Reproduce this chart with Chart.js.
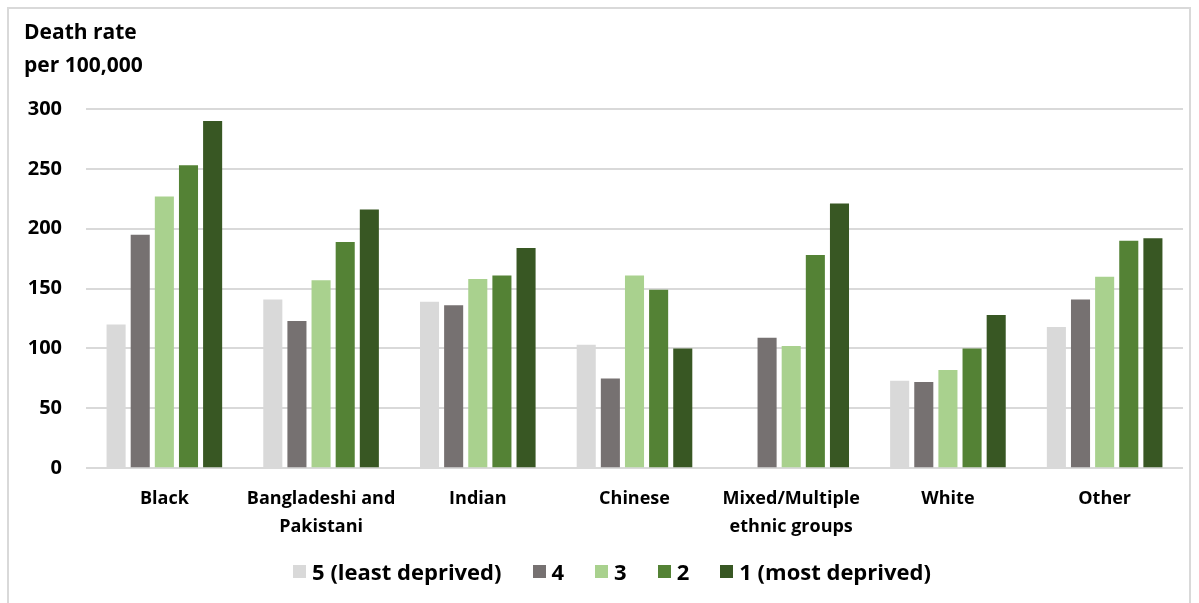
<!DOCTYPE html>
<html>
<head>
<meta charset="utf-8">
<script src="https://cdn.jsdelivr.net/npm/chart.js@4.4.1/dist/chart.umd.min.js"></script>
<style>
    html, body { margin: 0; padding: 0; background: #ffffff; }
    #wrap { position: relative; width: 1199px; height: 603px; overflow: hidden; }
    #frame { position: absolute; left: 7px; top: 7px; width: 1184px; height: 600px; border: 2px solid #d9d9d9; box-sizing: border-box; }
    #ytitle { position: absolute; left: 24px; top: 15px; font: bold 21px 'Open Sans', Lato, sans-serif; line-height: 33px; color: #000; }
    #chart-box { position: absolute; left: 0; top: 0; width: 1199px; height: 603px; }
    #legend { position: absolute; left: 0; width: 1224px; top: 556px; display: flex; justify-content: center; font: bold 22px 'Open Sans', Lato, sans-serif; line-height: 30px; color: #000; }
    #legend .item { display: flex; align-items: center; margin-right: 31px; }
    #legend .item:last-child { margin-right: 0; }
    #legend .swatch { width: 13px; height: 13px; margin-right: 6px; }
</style>
</head>
<body>
<div id="wrap">
    <div id="frame"></div>
    <div id="chart-box"><canvas id="deprivation-chart" width="1199" height="603"></canvas></div>
    <div id="ytitle">Death rate<br>per 100,000</div>
    <div id="legend"></div>
</div>
<script>
var categories = ['Black', ['Bangladeshi and', 'Pakistani'], 'Indian', 'Chinese', ['Mixed/Multiple', 'ethnic groups'], 'White', 'Other'];
var seriesNames = ['5 (least deprived)', '4', '3', '2', '1 (most deprived)'];
var quintile5 = [120, 141, 139, 103, null, 73, 118];
var quintile4 = [195, 123, 136, 75, 109, 72, 141];
var quintile3 = [227, 157, 158, 161, 102, 82, 160];
var quintile2 = [253, 189, 161, 149, 178, 100, 190];
var quintile1 = [290, 216, 184, 100, 221, 128, 192];
var seriesColors = ['#d9d9d9', '#767171', '#a9d18e', '#548235', '#385723'];
var yTicks = [0, 50, 100, 150, 200, 250, 300];

document.addEventListener('DOMContentLoaded', function () {
    initLegend();
    initChart();
});

function initLegend() {
    var box = document.getElementById('legend');
    seriesNames.forEach(function (name, i) {
        var item = document.createElement('div');
        item.className = 'item';
        var sw = document.createElement('span');
        sw.className = 'swatch';
        sw.style.background = seriesColors[i];
        var txt = document.createElement('span');
        txt.textContent = name;
        item.appendChild(sw);
        item.appendChild(txt);
        box.appendChild(item);
    });
}

function initChart() {
    var values = [quintile5, quintile4, quintile3, quintile2, quintile1];
    var fontFamily = "'Open Sans', Lato, sans-serif";

    new Chart(document.getElementById('deprivation-chart'), {
        type: 'bar',
        data: {
            labels: categories,
            datasets: values.map(function (v, i) {
                return {
                    label: seriesNames[i],
                    data: v,
                    backgroundColor: seriesColors[i],
                    borderWidth: 0,
                    categoryPercentage: 0.77,
                    barPercentage: 0.79
                };
            })
        },
        options: {
            responsive: false,
            animation: false,
            layout: { padding: { left: 20, right: 16, top: 109, bottom: 53 } },
            plugins: {
                tooltip: { enabled: false },
                legend: { display: false }
            },
            scales: {
                x: {
                    grid: { display: false },
                    border: { display: false },
                    ticks: {
                        color: '#000',
                        font: { family: fontFamily, size: 18, weight: 'bold', lineHeight: 1.55 },
                        maxRotation: 0,
                        autoSkip: false,
                        padding: 9
                    }
                },
                y: {
                    min: 0,
                    max: 300,
                    afterBuildTicks: function (scale) {
                        scale.ticks = yTicks.map(function (t) { return { value: t }; });
                    },
                    afterFit: function (scale) { scale.width = 66; },
                    grid: { color: '#d9d9d9', lineWidth: 2, drawTicks: false },
                    border: { display: false },
                    ticks: {
                        color: '#000',
                        font: { family: fontFamily, size: 20, weight: 'bold' },
                        padding: 24
                    }
                }
            }
        }
    });
}
</script>
</body>
</html>
